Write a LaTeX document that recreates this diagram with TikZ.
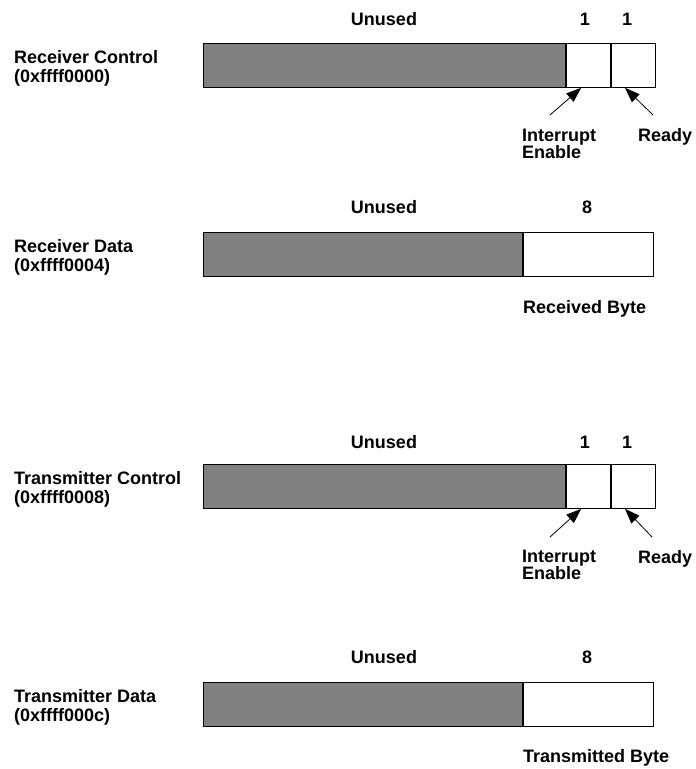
\documentclass[tikz,border=0pt]{standalone}
\usepackage{fontspec}
\setmainfont{Liberation Sans}
\usepackage{xcolor}
\usepackage{tikz}
\usetikzlibrary{arrows.meta}

\begin{document}
\begin{tikzpicture}[x=1pt,y=-1pt]
	\useasboundingbox (0,0) rectangle (696,769);

	% register fields
	\begin{scope}[every node/.style={draw=black,line width=0.8pt,minimum height=44pt,
	                                 inner sep=0pt,anchor=north west}]
	    \node[fill=black!50,minimum width=362pt] (rcunused) at (203,43) {};
	    \node[fill=white,minimum width=44pt] (rcie) at (rcunused.north east) {};
	    \node[fill=white,minimum width=44pt] (rcready) at (rcie.north east) {};

	    \node[fill=black!50,minimum width=319pt] (rdunused) at (203,232) {};
	    \node[fill=white,minimum width=130pt] (rdbyte) at (rdunused.north east) {};

	    \node[fill=black!50,minimum width=362pt] (tcunused) at (203,464) {};
	    \node[fill=white,minimum width=44pt] (tcie) at (tcunused.north east) {};
	    \node[fill=white,minimum width=44pt] (tcready) at (tcie.north east) {};

	    \node[fill=black!50,minimum width=319pt] (tdunused) at (203,682) {};
	    \node[fill=white,minimum width=130pt] (tdbyte) at (tdunused.north east) {};
	\end{scope}

	% texts
	\begin{scope}[every node/.style={font=\bfseries\fontsize{18}{19}\selectfont,
	                                 inner sep=0pt,align=left}]
	    \node (rchdr) at (384,19) {Unused};
	    \node (rcbit1) at (585,19) {1};
	    \node (rcbit0) at (627,19) {1};
	    \node[anchor=west] (rcname) at (14,68) {Receiver Control\\(0xffff0000)};
	    \node[anchor=north west] (rcietxt) at (522,128.5) {Interrupt\\[-2pt]Enable};
	    \node[anchor=north west] (rcreadytxt) at (638,128.5) {Ready};

	    \node (rdhdr) at (384,207) {Unused};
	    \node (rdbits) at (587,207) {8};
	    \node[anchor=west] (rdname) at (14,257) {Receiver Data\\(0xffff0004)};
	    \node[anchor=west] (rdbytetxt) at (523,309) {Received Byte};

	    \node (tchdr) at (384,442) {Unused};
	    \node (tcbit1) at (585,442) {1};
	    \node (tcbit0) at (627,442) {1};
	    \node[anchor=west] (tcname) at (14,489) {Transmitter Control\\(0xffff0008)};
	    \node[anchor=north west] (tcietxt) at (522,550) {Interrupt\\[-2pt]Enable};
	    \node[anchor=north west] (tcreadytxt) at (638,550) {Ready};

	    \node (tdhdr) at (384,657) {Unused};
	    \node (tdbits) at (587,657) {8};
	    \node[anchor=west] (tdname) at (14,707) {Transmitter Data\\(0xffff000c)};
	    \node[anchor=west] (tdbytetxt) at (523,758) {Transmitted Byte};
	\end{scope}

	\coordinate (rcietail) at (550,115);
	\coordinate (rcreadytail) at (653,115);
	\coordinate (tcietail) at (550,537);
	\coordinate (tcreadytail) at (652,537);

	\begin{scope}[>={Triangle[length=15pt,width=11pt]},
	              every edge/.style={draw=black,line width=0.8pt}]
	    \path [->] (rcietail) edge ([xshift=-7pt]rcie.south);
	    \path [->] (rcreadytail) edge ([xshift=-8pt]rcready.south);
	    \path [->] (tcietail) edge ([xshift=-7pt]tcie.south);
	    \path [->] (tcreadytail) edge ([xshift=-8pt]tcready.south);
	\end{scope}
\end{tikzpicture}
\end{document}
